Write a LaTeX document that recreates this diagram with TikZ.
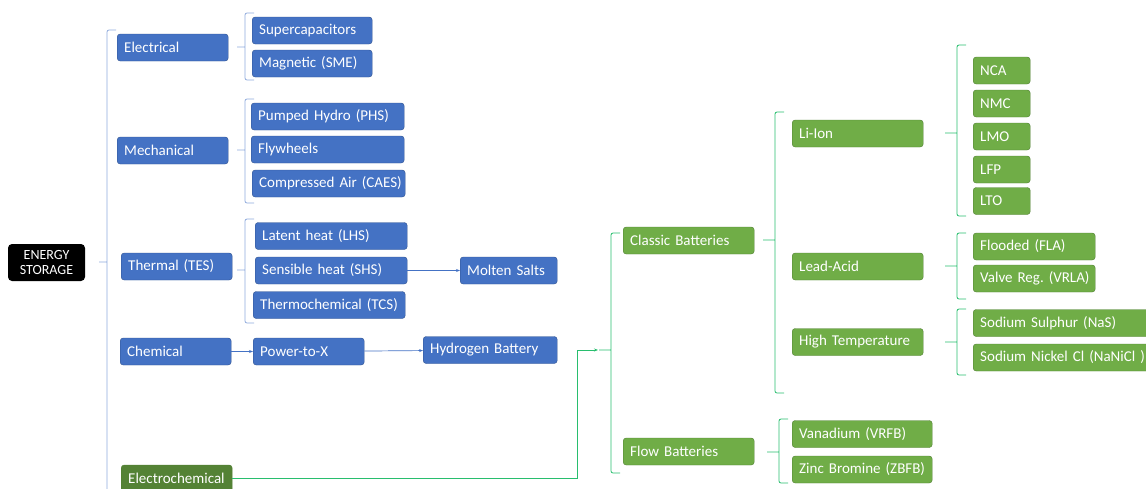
\documentclass[tikz,border=0pt]{standalone}
\usepackage{fontspec}
\setmainfont{Carlito}
\frenchspacing
\usetikzlibrary{positioning,arrows.meta}
\definecolor{boxblue}{RGB}{68,114,196}
\definecolor{edgeblue}{RGB}{47,82,143}
\definecolor{boxgreen}{RGB}{112,173,71}
\definecolor{edgegreen}{RGB}{80,126,50}
\definecolor{darkgreen}{RGB}{84,130,53}
\definecolor{braceblue}{RGB}{143,170,220}
\definecolor{bracegreen}{RGB}{40,190,110}

\begin{document}
\begin{tikzpicture}[
        x=1pt, y=-1pt,
        font=\fontsize{15}{17}\selectfont,
        bluebox/.style={rectangle, rounded corners=3pt, draw=edgeblue, fill=boxblue, text=white,
            anchor=west, minimum height=27pt, inner xsep=7pt, inner ysep=2pt, align=left, text width=#1,
            execute at begin node=\hbox\bgroup, execute at end node=\egroup},
        greenbox/.style={bluebox=#1, draw=edgegreen, fill=boxgreen},
        bluebrace/.style={draw=braceblue, line width=0.8pt, rounded corners=2pt},
        greenbrace/.style={draw=bracegreen, line width=0.8pt, rounded corners=2pt},
        bluearrow/.style={draw=boxblue, line width=0.7pt, -{Stealth[length=4pt,width=3pt]}}
    ]
        \useasboundingbox (0,0) rectangle (1146,488);

        % Root
        \node[rectangle, rounded corners=4pt, fill=black, text=white, align=center,
              font=\fontsize{14}{15.5}\selectfont, minimum width=77pt, minimum height=37pt,
              inner sep=1pt] (root) at (46.5,262.5) {ENERGY\\STORAGE};

        % First level
        \node[bluebox=97pt] (elec) at (117,47.5) {Electrical};
        \node[bluebox=97pt] (mech) at (117,150.5) {Mechanical};
        \node[bluebox=97pt] (therm) at (121,266.5) {Thermal (TES)};
        \node[bluebox=97pt] (chem) at (120,351.5) {Chemical};
        \node[greenbox=97pt, fill=darkgreen] (echem) at (121,478.5) {Electrochemical};

        % Electrical
        \node[bluebox=106pt] (supcap) at (252,30.5) {Supercapacitors};
        \node[bluebox=106pt] (sme) at (252,63.5) {Magnetic (SME)};

        % Mechanical
        \node[bluebox=139pt] (phs) at (251,116.5) {Pumped Hydro (PHS)};
        \node[bluebox=139pt] (fly) at (251,149.5) {Flywheels};
        \node[bluebox=139pt] (caes) at (252,183.5) {Compressed Air (CAES)};

        % Thermal
        \node[bluebox=138pt] (lhs) at (255,236) {Latent heat (LHS)};
        \node[bluebox=138pt] (shs) at (255,270.5) {Sensible heat (SHS)};
        \node[bluebox=138pt] (tcs) at (253,305) {Thermochemical (TCS)};
        \node[bluebox=83pt] (salts) at (460,270.5) {Molten Salts};

        % Chemical
        \node[bluebox=97pt] (ptx) at (253,351.5) {Power-to-X};
        \node[bluebox=120pt] (hbat) at (423,350) {Hydrogen Battery};

        % Electrochemical
        \node[greenbox=117pt] (classic) at (623,240.5) {Classic Batteries};
        \node[greenbox=117pt] (flow) at (623,451.5) {Flow Batteries};

        \node[greenbox=117pt] (liion) at (792,133.5) {Li-Ion};
        \node[greenbox=117pt] (lead) at (792,266.5) {Lead-Acid};
        \node[greenbox=117pt] (hight) at (792,342) {High Temperature};

        \node[greenbox=43pt] (nca) at (973,70.5) {NCA};
        \node[greenbox=43pt] (nmc) at (973,103.5) {NMC};
        \node[greenbox=43pt] (lmo) at (973,136.5) {LMO};
        \node[greenbox=43pt] (lfp) at (973,169.5) {LFP};
        \node[greenbox=43pt] (lto) at (973,201) {LTO};

        \node[greenbox=108pt] (fla) at (973,246.5) {Flooded (FLA)};
        \node[greenbox=108pt] (vrla) at (973,278.5) {Valve Reg. (VRLA)};

        \node[greenbox=170pt] (nas) at (973,323) {Sodium Sulphur (NaS)};
        \node[greenbox=170pt] (nanicl) at (973,357.5) {Sodium Nickel Cl (NaNiCl )};

        \node[greenbox=126pt] (vrfb) at (792,434) {Vanadium (VRFB)};
        \node[greenbox=126pt] (zbfb) at (792,469.5) {Zinc Bromine (ZBFB)};

        % Brackets
        \foreach \xv/\yt/\ym/\yb in {107/30/262/500, 245/13/47/80, 245/99/150/203, 245/219/270/323}
            \draw[bluebrace] (\xv+9,\yt) -- (\xv,\yt) -- (\xv,\yb) -- (\xv+9,\yb)
                (\xv,\ym) -- (\xv-8,\ym);
        \foreach \xv/\yt/\ym/\yb in {611/233/350/473, 775/112/240/393, 957/45/133/216,
                                     957/233/266/299, 957/309/342/375, 779/419/452/483}
            \draw[greenbrace] (\xv+9,\yt) -- (\xv,\yt) -- (\xv,\yb) -- (\xv+9,\yb)
                (\xv,\ym) -- (\xv-12,\ym);

        % Arrows
        \draw[bluearrow] (shs) -- (salts);
        \draw[bluearrow] (chem) -- (ptx);
        \draw[bluearrow] (ptx) -- (hbat);

        \coordinate (ein) at (598,350);
        \draw[draw=bracegreen, line width=0.8pt, -{Stealth[length=4pt,width=3pt]}]
            (echem.east) -| (577,350) -- (ein);
\end{tikzpicture}
\end{document}
